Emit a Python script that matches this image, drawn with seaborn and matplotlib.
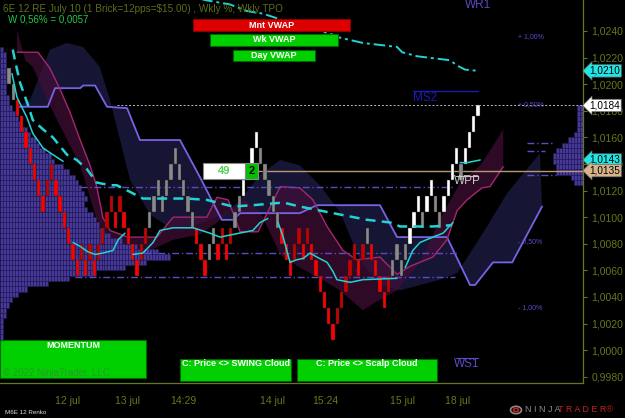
import numpy as np
import pandas as pd
import seaborn as sns
import matplotlib.pyplot as plt
from matplotlib.patches import Rectangle, Circle

sns.set_theme(style="dark")
plt.rcParams['font.family'] = ['Liberation Sans', 'DejaVu Sans']

# ---- renko bricks (12 pips) ----
BRICK = 0.0012
closes = [1.0200, 1.0188, 1.0176, 1.0164, 1.0152, 1.0140, 1.0128, 1.0116, 1.0104, 1.0128,
          1.0140, 1.0116, 1.0104, 1.0092, 1.0080, 1.0068, 1.0056, 1.0080, 1.0056, 1.0080,
          1.0056, 1.0080, 1.0092, 1.0104, 1.0116, 1.0092, 1.0116, 1.0092, 1.0080, 1.0068,
          1.0056, 1.0080, 1.0092, 1.0104, 1.0116, 1.0128, 1.0104, 1.0128, 1.0140, 1.0152,
          1.0128, 1.0116, 1.0104, 1.0092, 1.0080, 1.0068, 1.0056, 1.0080, 1.0092, 1.0068,
          1.0092, 1.0068, 1.0092, 1.0104, 1.0116, 1.0128, 1.0140, 1.0152, 1.0164, 1.0140,
          1.0128, 1.0116, 1.0104, 1.0092, 1.0080, 1.0068, 1.0056, 1.0080, 1.0092, 1.0068,
          1.0092, 1.0068, 1.0056, 1.0044, 1.0032, 1.0020, 1.0008, 1.0032, 1.0044, 1.0056,
          1.0068, 1.0080, 1.0056, 1.0080, 1.0092, 1.0068, 1.0056, 1.0044, 1.0032, 1.0056,
          1.0068, 1.0080, 1.0056, 1.0080, 1.0092, 1.0104, 1.0116, 1.0092, 1.0116, 1.0128,
          1.0104, 1.0092, 1.0116, 1.0128, 1.0140, 1.0152, 1.0128, 1.0152, 1.0164, 1.0176,
          1.0184]
dirs = ("dddddddddu" "uddddddudu" "duuuududdd" "duuuuuduuu" "ddddddduud"
        "uduuuuuuud" "ddddddduud" "udddddduuu" "uuduuddddu" "uuduuuuduu"
        "dduuuuduuu" "u")
kinds = ("ggrrrrrrrm" "mrrrrrrmrm" "rmmmmrmrrr" "rmmggggggg" "ggggrrrggr"
         "mrmggwwwwg" "ggggrrrmmr" "mrrrrrrmmm" "mmrmgrrrrm" "ggggwwwgww"
         "ggwwwwgwww" "w")

# ---- VWAPs ----
mvwap_i = [40.0, 46.4, 51.8, 55.8, 59.6, 65.2, 75.3, 77.6, 83.0, 91.0, 92.2, 95.7, 103.4, 105.1, 106.9, 110.0]
mvwap_p = [1.0268, 1.0263, 1.0260, 1.0255, 1.0253, 1.0247, 1.0238, 1.0235, 1.0231, 1.0228, 1.0224, 1.0221,
           1.0218, 1.0214, 1.0211, 1.0210]
wvwap_i = [0.9, 1.4, 2.6, 4.5, 5.6, 8.0, 10.3, 13.6, 15.9, 18.3, 20.6, 23.7, 25.3, 28.4, 31.4, 41.7, 46.4,
           48.8, 52.5, 57.2, 64.3, 68.2, 72.9, 77.6, 84.0, 89.4, 91.7, 99.4, 103.9]
wvwap_p = [1.0226, 1.0218, 1.0201, 1.0184, 1.0173, 1.0166, 1.0160, 1.0147, 1.0143, 1.0136, 1.0126, 1.0124,
           1.0124, 1.0119, 1.0114, 1.0114, 1.0113, 1.0111, 1.0108, 1.0109, 1.0111, 1.0108, 1.0105, 1.0102,
           1.0098, 1.0096, 1.0093, 1.0093, 1.0094]
dvwap = [
    ([0.7, 1.9, 4.2, 5.6, 8.0, 10.3, 12.7],
     [1.0208, 1.0190, 1.0175, 1.0163, 1.0152, 1.0147, 1.0142]),
    ([15.0, 16.7, 18.5, 20.2, 22.0, 24.4, 25.6, 27.2],
     [1.0081, 1.0078, 1.0074, 1.0072, 1.0073, 1.0075, 1.0083, 1.0088]),
    ([29.1, 31.4, 33.8, 35.4, 38.5, 43.2, 47.1, 49.5, 52.5, 57.2, 58.9, 60.7],
     [1.0072, 1.0073, 1.0081, 1.0090, 1.0092, 1.0092, 1.0088, 1.0085, 1.0087, 1.0090, 1.0096, 1.0099]),
    ([63.1, 64.3, 65.9, 67.5, 69.0, 70.6, 72.2, 74.6, 76.0, 76.9, 80.0, 83.0, 91.0],
     [1.0096, 1.0085, 1.0066, 1.0068, 1.0069, 1.0073, 1.0070, 1.0066, 1.0059, 1.0053, 1.0051, 1.0053, 1.0054]),
    ([92.9, 94.7, 96.4, 99.4, 101.8, 104.1],
     [1.0062, 1.0075, 1.0081, 1.0085, 1.0088, 1.0096]),
    ([105.8, 107.4, 110.5],
     [1.0141, 1.0141, 1.0143]),
]

# ---- swing cloud ----
swing_i = [1.9, 6.8, 9.1, 10.8, 16.7, 17.4, 20.2, 23.0, 27.7, 30.7, 40.1, 44.8, 49.9, 52.5, 54.2, 68.2,
           72.2, 87.0, 91.0, 102.7, 108.1, 109.3, 113.5, 118.0, 125.0]
swing_p = [1.0183, 1.0183, 1.0183, 1.0197, 1.0197, 1.0199, 1.0199, 1.0183, 1.0182, 1.0158, 1.0158, 1.0130,
           1.0098, 1.0098, 1.0103, 1.0103, 1.0109, 1.0109, 1.0085, 1.0085, 1.0049, 1.0049, 1.0066, 1.0066,
           1.0108]
swing_b_i = [1.9, 4.9, 7.3, 9.6, 13.6, 17.4, 21.3, 23.7, 28.4, 33.1, 37.8, 42.4, 47.1, 50.7, 54.2, 58.9,
             63.6, 68.2, 72.9, 77.6, 82.3, 87.0, 91.7, 96.4, 101.1, 105.1, 112.1, 116.8, 124.5]
swing_b_p = [1.0183, 1.0188, 1.0207, 1.0226, 1.0231, 1.0228, 1.0213, 1.0188, 1.0128, 1.0102, 1.0092, 1.0092,
             1.0098, 1.0103, 1.0113, 1.0132, 1.0143, 1.0139, 1.0124, 1.0104, 1.0068, 1.0049, 1.0045, 1.0049,
             1.0053, 1.0058, 1.0093, 1.0118, 1.0148]

# ---- scalp cloud ----
scalp_i = [1.9, 6.8, 9.6, 12.0, 14.3, 16.7, 19.0, 20.6, 22.0, 23.7, 27.9, 34.7, 38.5, 46.4, 48.8, 51.4,
           54.2, 58.4, 60.7, 63.6, 68.2, 71.3, 74.6, 78.3, 81.6, 87.0, 91.0, 94.0, 99.4, 102.7, 105.1,
           107.4, 110.9, 112.8, 115.9]
scalp_p = [1.0224, 1.0224, 1.0212, 1.0196, 1.0179, 1.0158, 1.0139, 1.0123, 1.0100, 1.0090, 1.0085, 1.0085,
           1.0100, 1.0100, 1.0115, 1.0113, 1.0089, 1.0089, 1.0104, 1.0123, 1.0122, 1.0113, 1.0093, 1.0075,
           1.0068, 1.0070, 1.0057, 1.0063, 1.0070, 1.0083, 1.0105, 1.0113, 1.0122, 1.0123, 1.0138]
scalp_b_i = [1.9, 3.8, 5.6, 8.4, 11.3, 14.3, 16.7, 20.6, 23.7, 28.4, 33.1, 38.5, 44.8, 48.8, 51.8, 55.3,
             58.9, 63.6, 68.2, 72.9, 77.6, 83.0, 87.0, 91.0, 96.4, 101.1, 105.8, 110.5, 112.8, 115.9]
scalp_b_p = [1.0241, 1.0218, 1.0213, 1.0192, 1.0173, 1.0154, 1.0139, 1.0098, 1.0075, 1.0072, 1.0075, 1.0083,
             1.0087, 1.0096, 1.0105, 1.0113, 1.0104, 1.0072, 1.0062, 1.0054, 1.0045, 1.0030, 1.0038, 1.0045,
             1.0066, 1.0099, 1.0126, 1.0139, 1.0150, 1.0166]

# ---- weekly TPO profiles (cells per price row) ----
tpo_left_p = [1.0226 - 0.0004 * k for k in range(55)]
tpo_left_n = [1, 2, 2, 2, 2, 2, 2, 2, 2, 3, 3, 4, 5, 6, 7, 9, 10, 12, 13, 15, 17, 18, 21, 23, 25, 26, 27,
              28, 29, 28, 29, 31, 32, 33, 35, 37, 41, 46, 53, 57, 49, 42, 32, 23, 16, 9, 6, 4, 3, 2, 2, 1,
              1, 1, 1]
tpo_right_p = [1.0182 - 0.0004 * k for k in range(15)]
tpo_right_n = [2, 2, 2, 2, 2, 3, 5, 7, 9, 10, 10, 9, 9, 4, 3]

# levels
last_price = 1.0184
wpp = 1.0135
tpo_levels = [(1.0123, 16.7, 104.6), (1.0073, 28.4, 105.1), (1.0055, 15.5, 104.6)]
va_levels = [(1.0156, 121.5, 127.6), (1.0150, 121.5, 125.8), (1.0132, 121.5, 128.3)]
pct_labels = [('+ 1,00%', 1.0236), ('+ 0,50%', 1.0185), ('- 0,50%', 1.0082), ('- 1,00%', 1.0032)]
tags = [(1.0210, '1,0210', '#22e6e6'), (1.0184, '1,0184', '#ffffff'),
        (1.0143, '1,0143', '#22e6e6'), (1.0135, '1,0135', '#d7b48a')]

x_tick_pos = [13.8, 27.9, 40.8, 61.9, 74.1, 92.2, 105.1]
x_tick_lab = ['12 jul', '13 jul', '14:29', '14 jul', '15:24', '15 jul', '18 jul']
minor_pos = [4.0, 53.0, 86.1]

OLIVE = '#66781c'
PURP = '#5a4bc8'
W, H = 625, 418

fig = plt.figure(figsize=(6.25, 4.18), dpi=100, facecolor='black')
ax = fig.add_axes([0, 1 - 383 / H, 583 / W, 383 / H])
ax.set_facecolor('black')
ax.grid(False)

# clouds
ax.fill(np.r_[swing_i, swing_b_i[::-1]], np.r_[swing_p, swing_b_p[::-1]],
        color='#181738', alpha=0.95, lw=0, zorder=1)
ax.fill(np.r_[scalp_i, scalp_b_i[::-1]], np.r_[scalp_p, scalp_b_p[::-1]],
        color='#420f37', alpha=0.7, lw=0, zorder=1.2)
sns.lineplot(x=swing_i, y=swing_p, ax=ax, color='#7763e6', lw=1.3, zorder=1.5)
sns.lineplot(x=scalp_i, y=scalp_p, ax=ax, color='#a3286f', lw=1.0, zorder=1.5)

# TPO profiles
cell = 0.7
x_left, x_right = -2.1, 134.6
ly, lx = [], []
for p, n in zip(tpo_left_p, tpo_left_n):
    for k in range(n):
        ly.append(p)
        lx.append(x_left + k * cell)
ax.barh(ly, cell, height=0.0004, left=lx, color='#46399a', edgecolor='#211a52', lw=0.4, zorder=2)
ry, rx = [], []
for p, n in zip(tpo_right_p, tpo_right_n):
    for k in range(n):
        ry.append(p)
        rx.append(x_right - (k + 1) * cell)
ax.barh(ry, cell, height=0.0004, left=rx, color='#46399a', edgecolor='#211a52', lw=0.4, zorder=2)

for p, a, b in tpo_levels + va_levels:
    ax.plot([a, b], [p, p], color=PURP, lw=1, ls=(0, (5, 2, 1, 2)), zorder=2.5)

# reference lines
ax.plot([25.3, x_right], [last_price] * 2, color='#bbbbbb', lw=0.7, ls=(0, (2, 2)), zorder=2.6)
ax.plot([58.4, x_right], [wpp] * 2, color='#b99a6e', lw=1.0, zorder=2.6)

# renko bricks
bars = pd.DataFrame({'close': closes, 'dir': list(dirs), 'kind': list(kinds)})
bars['open'] = np.where(bars['dir'] == 'u', bars['close'] - BRICK, bars['close'] + BRICK)
bars.loc[bars.index[-1], 'open'] = 1.0176
bars['lo'] = bars[['open', 'close']].min(axis=1)
bars['hi'] = bars[['open', 'close']].max(axis=1)
cmap = {'r': '#ff0000', 'm': '#c80000', 'g': '#8a8a8a', 'w': '#ffffff'}
ax.bar(bars.index, bars['hi'] - bars['lo'], bottom=bars['lo'], width=0.78,
       color=[cmap[k] for k in bars['kind']], edgecolor='#222222', lw=0.3, zorder=3)

# VWAP lines
sns.lineplot(x=mvwap_i, y=mvwap_p, ax=ax, color='#22d3d3', lw=1.4, ls=(0, (6, 2, 1.5, 2)), zorder=4)
sns.lineplot(x=wvwap_i, y=wvwap_p, ax=ax, color='#22d3d3', lw=1.8, ls=(0, (4, 2.5)), zorder=4)
for xs, ys in dvwap:
    sns.lineplot(x=xs, y=ys, ax=ax, color='#22d3d3', lw=1.1, zorder=4)

# pivot labels
ax.text(110.0, 1.02596, 'WR1', color=PURP, fontsize=8.5, ha='center', va='center', zorder=5)
ax.plot([94.7, 110.0], [1.01949] * 2, color='#1a1ab0', lw=1, zorder=5)
ax.text(94.7, 1.01896, 'MS2', color='#1a1ab8', fontsize=8.5, ha='left', va='center', zorder=5)
ax.plot([104.8, 110.0], [1.0131] * 2, color='#c8c8c8', lw=0.8, zorder=5)
ax.text(107.4, 1.01272, 'WPP', color='#c8c8c8', fontsize=8.5, ha='center', va='center', zorder=5)
ax.plot([104.8, 110.0], [0.99941] * 2, color=PURP, lw=0.8, zorder=5)
ax.text(107.4, 0.99896, 'WS1', color=PURP, fontsize=8.5, ha='center', va='center', zorder=5)
for t, p in pct_labels:
    ax.text(119.4, p, t, color=PURP, fontsize=5, ha='left', va='center', zorder=5)

# axes
ax.set_xlim(x_left, x_right)
ax.set_ylim(0.99753, 1.02633)
ax.set_xticks(x_tick_pos)
ax.set_xticklabels(x_tick_lab)
ax.set_xticks(minor_pos, minor=True)
yt = np.round(np.arange(0.998, 1.0241, 0.002), 4)
ax.yaxis.tick_right()
ax.set_yticks(yt)
ax.set_yticklabels([f'{v:.4f}'.replace('.', ',') for v in yt])
ax.tick_params(axis='both', which='both', colors=OLIVE, labelcolor=OLIVE, labelsize=7.5,
               direction='out', length=3, width=0.8)
ax.tick_params(axis='x', pad=6)
ax.tick_params(axis='y', pad=3)
for s in ['left', 'top']:
    ax.spines[s].set_visible(False)
for s in ['right', 'bottom']:
    ax.spines[s].set_visible(True)
    ax.spines[s].set_color(OLIVE)
    ax.spines[s].set_linewidth(0.9)
ax.set_xlabel('')
ax.set_ylabel('')

# price tags on the axis
for p, txt, fc in tags:
    ax.annotate(txt, xy=(1.0, p), xycoords=('axes fraction', 'data'), xytext=(4.5, 0),
                textcoords='offset points', ha='left', va='center', fontsize=7.2, color='black',
                bbox=dict(boxstyle='larrow,pad=0.12', fc=fc, ec='#666666', lw=0.5),
                annotation_clip=False, zorder=6)


def box(x0, y0, x1, y1, fc, txt='', tc='white', ty=None, fs=6.5, ec='#006600'):
    fig.add_artist(Rectangle((x0 / W, 1 - y1 / H), (x1 - x0) / W, (y1 - y0) / H,
                             transform=fig.transFigure, fc=fc, ec=ec, lw=0.8, zorder=7))
    if txt:
        yy = (y0 + y1) / 2 if ty is None else ty
        fig.text((x0 + x1) / 2 / W, 1 - yy / H, txt, color=tc, fontsize=fs, fontweight='bold',
                 ha='center', va='center', zorder=8)


box(193, 19, 350, 31, '#dd0000', 'Mnt VWAP', ec='#880000')
box(210, 34, 338, 46, '#00d000', 'Wk VWAP')
box(233, 50, 315, 61, '#00d000', 'Day VWAP')
box(0, 340, 146, 378, '#00d000', 'MOMENTUM', ty=345)
box(180, 359, 291, 381, '#00d000', 'C: Price <> SWING Cloud', ty=364)
box(297, 359, 437, 381, '#00d000', 'C: Price <> Scalp Cloud', ty=364)
box(203, 163, 245, 179, '#ffffff', '49', tc='#55cc55', fs=8, ec='#888888')
box(245, 163, 258, 179, '#00c000', '2', tc='black', fs=8, ec='#888888')

fig.text(3 / W, 1 - 9 / H, r'6E 12 RE July 10 (1 Brick=12pps=\$15.00) , Wkly %, Wkly TPO',
         color='#5c6e1a', fontsize=7.2, ha='left', va='center')
fig.text(8 / W, 1 - 19 / H, 'W 0,56% = 0,0057', color='#22c844', fontsize=7, ha='left', va='center')
fig.text(3 / W, 1 - 373 / H, '\u00a9 2022 NinjaTrader, LLC', color='#2a9a2a', fontsize=7,
         ha='left', va='center', zorder=9)
fig.text(5 / W, 1 - 412 / H, 'M6E 12 Renko', color='#dddddd', fontsize=4.5, ha='left', va='center')

# logo
fig.add_artist(Circle((516 / W, 1 - 410 / H), 5.5 / W, transform=fig.transFigure,
                      fc='none', ec='#8a8a8a', lw=1.2))
fig.add_artist(Circle((516 / W, 1 - 410 / H), 2.5 / W, transform=fig.transFigure,
                      fc='none', ec='#c42020', lw=1.2))
fig.text(525 / W, 1 - 410 / H, 'N I N J A', color='#8a8a8a', fontsize=6.5, ha='left', va='center')
fig.text(558 / W, 1 - 410 / H, 'T R A D E R\u00ae', color='#c42020', fontsize=6.5, ha='left', va='center')

fig.savefig('out.png', dpi=100, facecolor='black')
